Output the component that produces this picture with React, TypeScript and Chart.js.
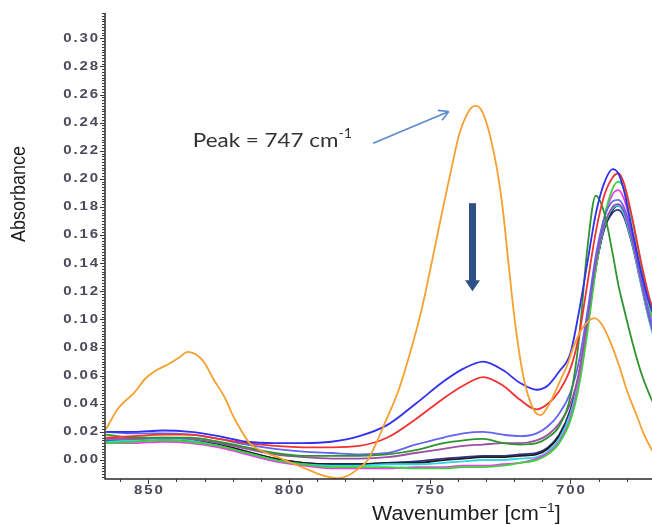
import React, { useEffect, useRef } from "react";
import { Chart, registerables } from "chart.js";
Chart.register(...registerables);

// ---------- data ----------
const baseWavenumbers = [865, 855, 845, 835, 825, 815, 805, 795, 785, 775, 765, 755, 745, 738, 731, 724, 718, 712, 708, 704, 700, 697, 694, 691, 688, 685, 683, 681, 678, 675, 672, 669];

const absBlue = [0.020, 0.020, 0.021, 0.020, 0.017, 0.013, 0.012, 0.012, 0.013, 0.017, 0.025, 0.040, 0.056, 0.065, 0.070, 0.064, 0.055, 0.050, 0.053, 0.063, 0.076, 0.105, 0.140, 0.175, 0.197, 0.207, 0.204, 0.192, 0.163, 0.135, 0.112, 0.096];
const absRed = [0.016, 0.017, 0.018, 0.018, 0.015, 0.012, 0.010, 0.009, 0.009, 0.010, 0.016, 0.029, 0.044, 0.053, 0.059, 0.053, 0.043, 0.036, 0.040, 0.049, 0.065, 0.088, 0.125, 0.162, 0.188, 0.201, 0.204, 0.197, 0.172, 0.142, 0.116, 0.097];
const absLightBlue = [0.020, 0.019, 0.019, 0.018, 0.015, 0.011, 0.008, 0.006, 0.005, 0.004, 0.005, 0.011, 0.016, 0.019, 0.020, 0.018, 0.017, 0.019, 0.024, 0.033, 0.048, 0.070, 0.105, 0.145, 0.172, 0.184, 0.185, 0.180, 0.160, 0.132, 0.104, 0.082];
const absDarkGreen = [0.018, 0.016, 0.016, 0.016, 0.013, 0.009, 0.005, 0.003, 0.003, 0.003, 0.004, 0.007, 0.012, 0.014, 0.015, 0.012, 0.011, 0.012, 0.016, 0.024, 0.045, 0.085, 0.150, 0.188, 0.176, 0.147, 0.125, 0.108, 0.084, 0.063, 0.047, 0.034];
const absPurple = [0.015, 0.015, 0.016, 0.015, 0.012, 0.008, 0.004, 0.002, 0.001, 0.001, 0.002, 0.005, 0.008, 0.010, 0.011, 0.012, 0.012, 0.014, 0.018, 0.026, 0.040, 0.062, 0.100, 0.140, 0.167, 0.180, 0.182, 0.177, 0.156, 0.128, 0.101, 0.080];
const absNavy = [0.014, 0.014, 0.015, 0.014, 0.011, 0.006, 0.001, -0.002, -0.003, -0.003, -0.002, -0.001, 0.001, 0.002, 0.003, 0.003, 0.004, 0.005, 0.009, 0.018, 0.036, 0.060, 0.097, 0.137, 0.164, 0.176, 0.178, 0.173, 0.153, 0.126, 0.100, 0.080];
const absCyan = [0.013, 0.014, 0.015, 0.014, 0.010, 0.005, 0.000, -0.003, -0.004, -0.004, -0.003, -0.003, -0.002, -0.001, 0.000, 0.000, 0.001, 0.002, 0.006, 0.015, 0.033, 0.058, 0.096, 0.137, 0.166, 0.179, 0.181, 0.175, 0.154, 0.126, 0.099, 0.078];
const absMagenta = [0.012, 0.012, 0.013, 0.012, 0.009, 0.004, -0.001, -0.004, -0.006, -0.006, -0.006, -0.005, -0.005, -0.004, -0.004, -0.003, -0.002, 0.001, 0.005, 0.013, 0.030, 0.055, 0.094, 0.138, 0.172, 0.189, 0.192, 0.186, 0.163, 0.133, 0.105, 0.083];
const absBrightGreen = [0.012, 0.013, 0.014, 0.013, 0.010, 0.005, 0.000, -0.003, -0.005, -0.005, -0.005, -0.006, -0.006, -0.005, -0.005, -0.004, -0.002, 0.000, 0.004, 0.012, 0.028, 0.052, 0.090, 0.135, 0.172, 0.193, 0.198, 0.193, 0.170, 0.140, 0.110, 0.088];
const absBlack = [0.013, 0.014, 0.015, 0.014, 0.011, 0.006, 0.001, -0.002, -0.003, -0.003, -0.002, -0.002, 0.000, 0.001, 0.002, 0.002, 0.003, 0.004, 0.008, 0.017, 0.034, 0.058, 0.096, 0.136, 0.165, 0.178, 0.181, 0.176, 0.155, 0.128, 0.101, 0.080];

const orangeWavenumbers = [865, 861, 855, 851, 847, 843, 839, 836, 833, 830, 827, 823, 820, 817, 814, 808, 804, 798, 793, 788, 783, 779, 776, 772, 769, 766, 761, 756, 753, 751, 748, 745, 742, 739.5, 737, 735, 733.7, 732, 730, 728, 726, 724, 722, 720, 718, 716, 714, 712, 710.5, 708, 706, 703.5, 701, 699, 696, 693.5, 691.5, 689, 686, 682.5, 680, 676.5, 674, 671, 668];
const absOrange = [0.022, 0.036, 0.048, 0.058, 0.064, 0.068, 0.073, 0.077, 0.075, 0.069, 0.058, 0.045, 0.032, 0.021, 0.012, 0.005, 0.002, -0.003, -0.007, -0.011, -0.013, -0.011, -0.007, 0.000, 0.012, 0.026, 0.050, 0.083, 0.106, 0.124, 0.153, 0.182, 0.210, 0.232, 0.245, 0.251, 0.252, 0.250, 0.241, 0.226, 0.206, 0.178, 0.140, 0.103, 0.074, 0.053, 0.040, 0.033, 0.032, 0.038, 0.046, 0.057, 0.068, 0.080, 0.093, 0.099, 0.101, 0.097, 0.085, 0.066, 0.050, 0.032, 0.019, 0.007, -0.002];

const yTickLabels = ["0.00", "0.02", "0.04", "0.06", "0.08", "0.10", "0.12", "0.14", "0.16", "0.18", "0.20", "0.22", "0.24", "0.26", "0.28", "0.30"];
const xTickLabels = ["850", "800", "750", "700"];

const xTitle = "Wavenumber [cm";
const xTitleSup = "\u22121";
const yTitle = "Absorbance";

const peakText = "Peak = 747 cm";
const peakSup = "-1";
const peakTextAt = { x: 834.2, y: 0.2228 };
const thinArrowFrom = { x: 770.1, y: 0.2254 };
const thinArrowTo = { x: 743.2, y: 0.2479 };
const thickArrow = { x: 734.8, top: 0.1827, tip: 0.12 };

// ---------- drawing helpers ----------
function drawSegments(ctx: CanvasRenderingContext2D, segs: { t: string; font: string; dy: number }[], x: number, y: number, sx: number) {
  ctx.save();
  ctx.translate(x, y);
  ctx.scale(sx, 1);
  ctx.textAlign = "left";
  ctx.textBaseline = "alphabetic";
  let cx = 0;
  for (const s of segs) {
    ctx.font = s.font;
    ctx.fillText(s.t, cx, s.dy);
    cx += ctx.measureText(s.t).width;
  }
  ctx.restore();
}

function stretched(ctx: CanvasRenderingContext2D, text: string, x: number, y: number, sx: number, align: CanvasTextAlign, spacing: string) {
  ctx.save();
  ctx.translate(x, y);
  ctx.scale(sx, 1);
  ctx.textAlign = align;
  ctx.textBaseline = "middle";
  (ctx as any).letterSpacing = spacing;
  ctx.fillText(text, 0, 0);
  ctx.restore();
}

const decoPlugin = {
  id: "deco",
  afterDraw(chart: any) {
    const ctx: CanvasRenderingContext2D = chart.ctx;
    const xs = chart.scales.x;
    const ys = chart.scales.y;
    const a = chart.chartArea;
    ctx.save();
    // axis lines
    ctx.strokeStyle = "#2a2a2a";
    ctx.lineWidth = 1.5;
    ctx.beginPath();
    ctx.moveTo(a.left, a.top);
    ctx.lineTo(a.left, a.bottom);
    ctx.lineTo(a.right, a.bottom);
    ctx.stroke();
    // y ticks
    ctx.lineWidth = 1;
    ctx.strokeStyle = "#3a3a3a";
    ctx.beginPath();
    for (let i = -10; i <= 170; i++) {
      const v = i * 0.002;
      if (v < ys.min || v > ys.max) continue;
      const py = Math.round(ys.getPixelForValue(v)) + 0.5;
      const major = i % 10 === 0;
      ctx.moveTo(a.left - (major ? 5 : 3), py);
      ctx.lineTo(a.left, py);
    }
    // x ticks
    for (let w = 680; w <= 860; w += 10) {
      const px = Math.round(xs.getPixelForValue(w)) + 0.5;
      const major = w % 50 === 0;
      ctx.moveTo(px, a.bottom);
      ctx.lineTo(px, a.bottom + (major ? 5 : 3));
    }
    ctx.stroke();
    // tick labels
    ctx.fillStyle = "#4a4a5a";
    ctx.font = "bold 12px 'Liberation Sans'";
    for (const lab of yTickLabels) {
      const py = ys.getPixelForValue(parseFloat(lab));
      stretched(ctx, lab, a.left - 5, py, 1.25, "right", "1.5px");
    }
    for (const lab of xTickLabels) {
      const px = xs.getPixelForValue(parseFloat(lab));
      stretched(ctx, lab, px + 1, a.bottom + 12, 1.25, "center", "1.5px");
    }
    // axis titles
    ctx.fillStyle = "#1e1e1e";
    ctx.save();
    ctx.translate(19, (a.top + a.bottom) / 2 - 52);
    ctx.scale(1.15, 1);
    ctx.rotate(-Math.PI / 2);
    ctx.font = "18px 'Liberation Sans'";
    ctx.textAlign = "center";
    ctx.textBaseline = "middle";
    ctx.fillText(yTitle, 0, 0);
    ctx.restore();
    drawSegments(ctx, [
      { t: xTitle, font: "20px 'Liberation Sans'", dy: 0 },
      { t: xTitleSup, font: "13px 'Liberation Sans'", dy: -8 },
      { t: "]", font: "20px 'Liberation Sans'", dy: 0 },
    ], 372, a.bottom + 41, 1.07);
    // annotation text
    ctx.fillStyle = "#333333";
    drawSegments(ctx, [
      { t: peakText, font: "19.5px Lato", dy: 0 },
      { t: peakSup, font: "12.5px Lato", dy: -9 },
    ], xs.getPixelForValue(peakTextAt.x), ys.getPixelForValue(peakTextAt.y), 1.15);
    // thin arrow
    const fx = xs.getPixelForValue(thinArrowFrom.x), fy = ys.getPixelForValue(thinArrowFrom.y);
    const tx = xs.getPixelForValue(thinArrowTo.x), ty = ys.getPixelForValue(thinArrowTo.y);
    ctx.strokeStyle = "#5a8ad0";
    ctx.lineWidth = 1.6;
    ctx.beginPath();
    ctx.moveTo(fx, fy);
    ctx.lineTo(tx, ty);
    const ang = Math.atan2(ty - fy, tx - fx);
    for (const s of [-1, 1]) {
      ctx.moveTo(tx, ty);
      ctx.lineTo(tx - 11 * Math.cos(ang + s * 0.5), ty - 11 * Math.sin(ang + s * 0.5));
    }
    ctx.stroke();
    // thick arrow
    const ax = xs.getPixelForValue(thickArrow.x);
    const atop = ys.getPixelForValue(thickArrow.top);
    const atip = ys.getPixelForValue(thickArrow.tip);
    ctx.fillStyle = "#2d5186";
    ctx.fillRect(ax - 3.5, atop, 7, atip - atop - 10);
    ctx.beginPath();
    ctx.moveTo(ax - 7.5, atip - 11);
    ctx.lineTo(ax + 7.5, atip - 11);
    ctx.lineTo(ax, atip);
    ctx.closePath();
    ctx.fill();
    ctx.restore();
  },
};

function makeSeries(values: number[]) {
  return baseWavenumbers.map((w, i) => ({ x: w, y: values[i] }));
}

export default function App() {
  const ref = useRef<HTMLCanvasElement | null>(null);
  useEffect(() => {
    if (!ref.current) return;
    const line = (label: string, data: any[], color: string, width = 1.8) => ({
      label,
      data,
      borderColor: color,
      backgroundColor: color,
      borderWidth: width,
      pointRadius: 0,
      fill: false,
      cubicInterpolationMode: "monotone" as const,
    });
    const chart = new Chart(ref.current, {
      type: "line",
      data: {
        datasets: [
          line("Orange", orangeWavenumbers.map((w, i) => ({ x: w, y: absOrange[i] })), "#f5a030", 1.8),
          line("Blue", makeSeries(absBlue), "#3030ee"),
          line("Red", makeSeries(absRed), "#f03232"),
          line("Dark green", makeSeries(absDarkGreen), "#2e942e"),
          line("Light blue", makeSeries(absLightBlue), "#6464f0"),
          line("Purple", makeSeries(absPurple), "#9c4ea6"),
          line("Bright green", makeSeries(absBrightGreen), "#3cd23c"),
          line("Magenta", makeSeries(absMagenta), "#f03cf0"),
          line("Cyan", makeSeries(absCyan), "#2ed6e6"),
          line("Black", makeSeries(absBlack), "#1e1e1e"),
          line("Navy", makeSeries(absNavy), "#34348a"),
        ],
      },
      options: {
        animation: false,
        responsive: false,
        devicePixelRatio: 1,
        layout: { padding: { left: 105, top: 13, right: 0, bottom: 46 } },
        plugins: { legend: { display: false }, tooltip: { enabled: false } },
        scales: {
          x: { type: "linear", display: false, reverse: true, min: 671, max: 865.4 },
          y: { type: "linear", display: false, min: -0.0135, max: 0.318 },
        },
      },
      plugins: [decoPlugin],
    });
    return () => chart.destroy();
  }, []);
  return (
    <div style={{ position: "fixed", left: 0, top: 0, width: 652, height: 525, background: "#fff" }}>
      <canvas ref={ref} width={652} height={525} style={{ display: "block" }} />
    </div>
  );
}
